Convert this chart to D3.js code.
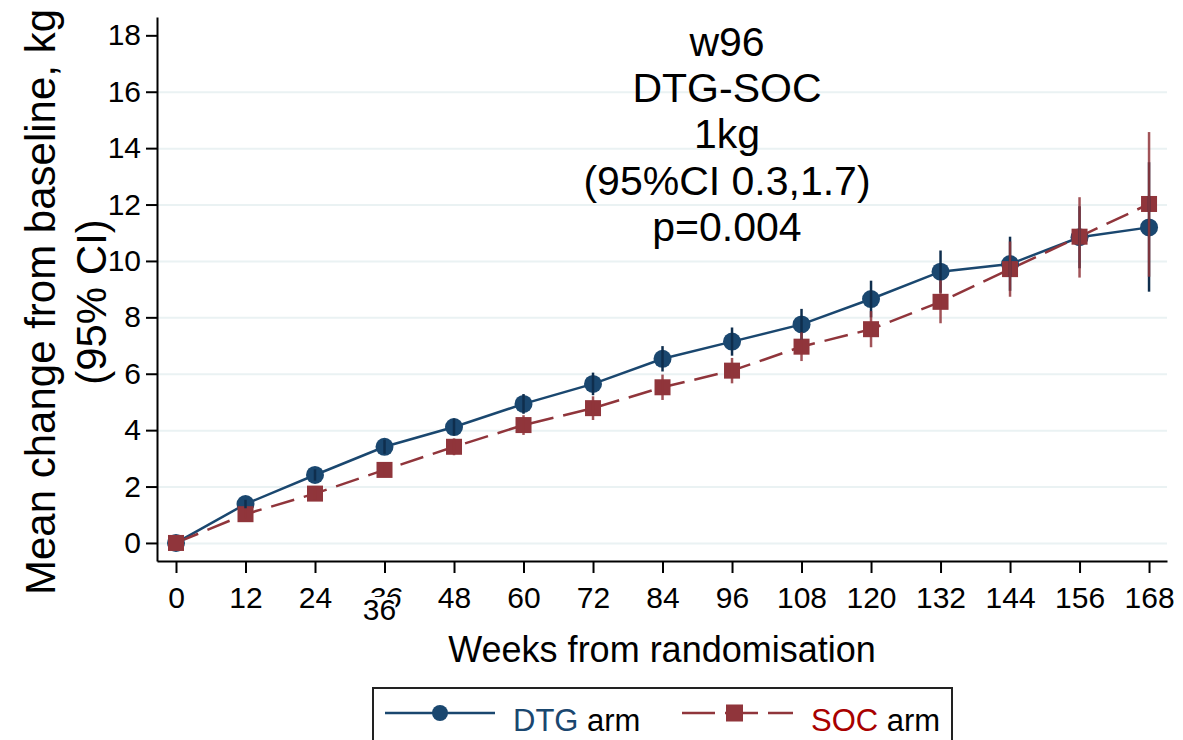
<!doctype html>
<html lang="en">
  <head>
    <meta charset="utf-8">
    <title>Weight change from baseline by arm</title>
    <script src="https://d3js.org/d3.v7.min.js"></script>
    <style>
      body { margin: 0; background: #fff; }
      svg text { font-family: "Liberation Sans", Arial, sans-serif; }
      .axis-grid line { stroke: #eaf2f3; stroke-width: 2px; }
      .axis-grid path { display: none; }
    </style>
  </head>
  <body>
    <div id="my_dataviz"></div>
    <script>
      // data
      const weeks = [0, 12, 24, 36, 48, 60, 72, 84, 96, 108, 120, 132, 144, 156, 168];
      const dtgMean  = [0, 1.38, 2.41, 3.41, 4.11, 4.93, 5.64, 6.53, 7.14, 7.75, 8.65, 9.62, 9.89, 10.84, 11.19];
      const dtgLower = [0, 1.23, 2.21, 3.16, 3.81, 4.58, 5.24, 6.08, 6.64, 7.20, 8.00, 8.87, 8.94, 9.74, 8.91];
      const dtgUpper = [0, 1.53, 2.61, 3.66, 4.41, 5.28, 6.04, 6.98, 7.64, 8.30, 9.30, 10.37, 10.86, 11.94, 13.50];
      const socMean  = [0, 1.02, 1.75, 2.59, 3.41, 4.18, 4.78, 5.52, 6.11, 6.96, 7.58, 8.55, 9.71, 10.86, 12.02];
      const socLower = [0, 0.87, 1.55, 2.34, 3.11, 3.83, 4.36, 5.07, 5.66, 6.45, 6.94, 7.79, 8.73, 9.41, 9.44];
      const socUpper = [0, 1.17, 1.95, 2.84, 3.71, 4.53, 5.20, 5.97, 6.56, 7.47, 8.22, 9.31, 10.69, 12.26, 14.57];
      const yTicks = [0, 2, 4, 6, 8, 10, 12, 14, 16, 18];
      const gridTicks = [0, 2, 4, 6, 8, 10, 12, 14, 16];
      const noteLines = ["w96", "DTG-SOC", "1kg", "(95%CI 0.3,1.7)", "p=0.004"];

      const navy = "#1a476f", maroon = "#90353b";
      const width = 1183, height = 740;

      const svg = d3.select("#my_dataviz")
        .append("svg")
        .attr("width", width)
        .attr("height", height);

      svg.append("rect").attr("width", width).attr("height", height).attr("fill", "#fff");

      // scales
      const x = d3.scaleLinear().domain([-3.28, 171.1]).range([157, 1167]);
      const y = d3.scaleLinear().domain([-0.64, 18.65]).range([561, 17]);

      // grid
      svg.append("g")
        .attr("class", "axis-grid")
        .attr("transform", "translate(157,0)")
        .call(d3.axisLeft(y).tickValues(gridTicks).tickSize(-1010).tickFormat(""));

      // y axis
      const yAxis = svg.append("g")
        .attr("transform", "translate(157,0)")
        .call(d3.axisLeft(y).tickValues(yTicks).tickSize(11).tickPadding(5).tickSizeOuter(0));
      yAxis.select(".domain").attr("stroke", "#000").attr("stroke-width", 2);
      yAxis.selectAll(".tick line").attr("stroke", "#000").attr("stroke-width", 2);
      yAxis.selectAll(".tick text").style("font-size", "30px").attr("fill", "#000");

      // x axis
      const xAxis = svg.append("g")
        .attr("transform", "translate(0,561)")
        .call(d3.axisBottom(x).tickValues(weeks).tickSize(12).tickPadding(14).tickSizeOuter(0));
      xAxis.select(".domain").attr("stroke", "#000").attr("stroke-width", 2);
      xAxis.selectAll(".tick line").attr("stroke", "#000").attr("stroke-width", 2);
      xAxis.selectAll(".tick text").style("font-size", "30px").attr("fill", "#000");
      // the "36" label is drawn twice in the original, overlapping
      xAxis.selectAll(".tick text").filter(d => d === 36).style("font-style", "italic");
      const dup = svg.append("g");
      dup.append("rect")
        .attr("x", x(36) - 20).attr("y", 597).attr("width", 31).attr("height", 26)
        .attr("fill", "#fff");
      dup.append("text")
        .attr("x", x(36) - 5).attr("y", 620)
        .attr("text-anchor", "middle")
        .style("font-size", "30px")
        .text("36");

      // axis titles
      svg.append("text")
        .attr("x", 662).attr("y", 662)
        .attr("text-anchor", "middle")
        .style("font-size", "36px")
        .text("Weeks from randomisation");

      svg.append("text")
        .attr("transform", "translate(55,302) rotate(-90)")
        .attr("text-anchor", "middle")
        .style("font-size", "42px")
        .text("Mean change from baseline, kg");
      svg.append("text")
        .attr("transform", "translate(106,302) rotate(-90)")
        .attr("text-anchor", "middle")
        .style("font-size", "42px")
        .text("(95% CI)");

      // annotation
      svg.append("g").selectAll("text")
        .data(noteLines)
        .join("text")
          .attr("x", 727)
          .attr("y", (d, i) => 56 + i * 46.2)
          .attr("text-anchor", "middle")
          .style("font-size", "41px")
          .text(d => d);

      const dtg = weeks.map((w, i) => ({w: w, m: dtgMean[i], lo: dtgLower[i], hi: dtgUpper[i]}));
      const soc = weeks.map((w, i) => ({w: w, m: socMean[i], lo: socLower[i], hi: socUpper[i]}));

      const line = d3.line().x(d => x(d.w)).y(d => y(d.m));

      // connecting lines
      svg.append("path").datum(dtg)
        .attr("d", line).attr("fill", "none")
        .attr("stroke", navy).attr("stroke-width", 2.5);
      svg.append("path").datum(soc)
        .attr("d", line).attr("fill", "none")
        .attr("stroke", maroon).attr("stroke-width", 2.5)
        .attr("stroke-dasharray", "24,10");

      // markers
      svg.append("g").selectAll("circle")
        .data(dtg)
        .join("circle")
          .attr("cx", d => x(d.w))
          .attr("cy", d => y(d.m))
          .attr("r", 9)
          .attr("fill", navy);
      svg.append("g").selectAll("rect")
        .data(soc)
        .join("rect")
          .attr("x", d => x(d.w) - 8)
          .attr("y", d => y(d.m) - 8)
          .attr("width", 16).attr("height", 16)
          .attr("fill", maroon);

      // confidence intervals
      svg.append("g").selectAll("line")
        .data(dtg)
        .join("line")
          .attr("x1", d => x(d.w)).attr("x2", d => x(d.w))
          .attr("y1", d => y(d.lo)).attr("y2", d => y(d.hi))
          .attr("stroke", "#0f2e4d").attr("stroke-width", 2.5);
      svg.append("g").selectAll("line")
        .data(soc)
        .join("line")
          .attr("x1", d => x(d.w)).attr("x2", d => x(d.w))
          .attr("y1", d => y(d.lo)).attr("y2", d => y(d.hi))
          .attr("stroke", maroon).attr("stroke-width", 2.5)
          .attr("stroke-opacity", 0.85);

      // legend
      const legend = svg.append("g");
      legend.append("rect")
        .attr("x", 373).attr("y", 688).attr("width", 579).attr("height", 70)
        .attr("fill", "#fff").attr("stroke", "#222").attr("stroke-width", 2);
      legend.append("line")
        .attr("x1", 385).attr("x2", 495).attr("y1", 713).attr("y2", 713)
        .attr("stroke", navy).attr("stroke-width", 2.5);
      legend.append("circle")
        .attr("cx", 440).attr("cy", 713).attr("r", 8).attr("fill", navy);
      const t1 = legend.append("text").attr("x", 513).attr("y", 731).style("font-size", "31px");
      t1.append("tspan").attr("fill", navy).text("DTG");
      t1.append("tspan").attr("fill", "#000").text(" arm");

      legend.append("line")
        .attr("x1", 682).attr("x2", 793).attr("y1", 713).attr("y2", 713)
        .attr("stroke", maroon).attr("stroke-width", 2.5)
        .attr("stroke-dasharray", "33,10");
      legend.append("rect")
        .attr("x", 726).attr("y", 704.5).attr("width", 17).attr("height", 17).attr("fill", maroon);
      const t2 = legend.append("text").attr("x", 811).attr("y", 731).style("font-size", "31px");
      t2.append("tspan").attr("fill", "#a80000").text("SOC");
      t2.append("tspan").attr("fill", "#000").text(" arm");
    </script>
  </body>
</html>
